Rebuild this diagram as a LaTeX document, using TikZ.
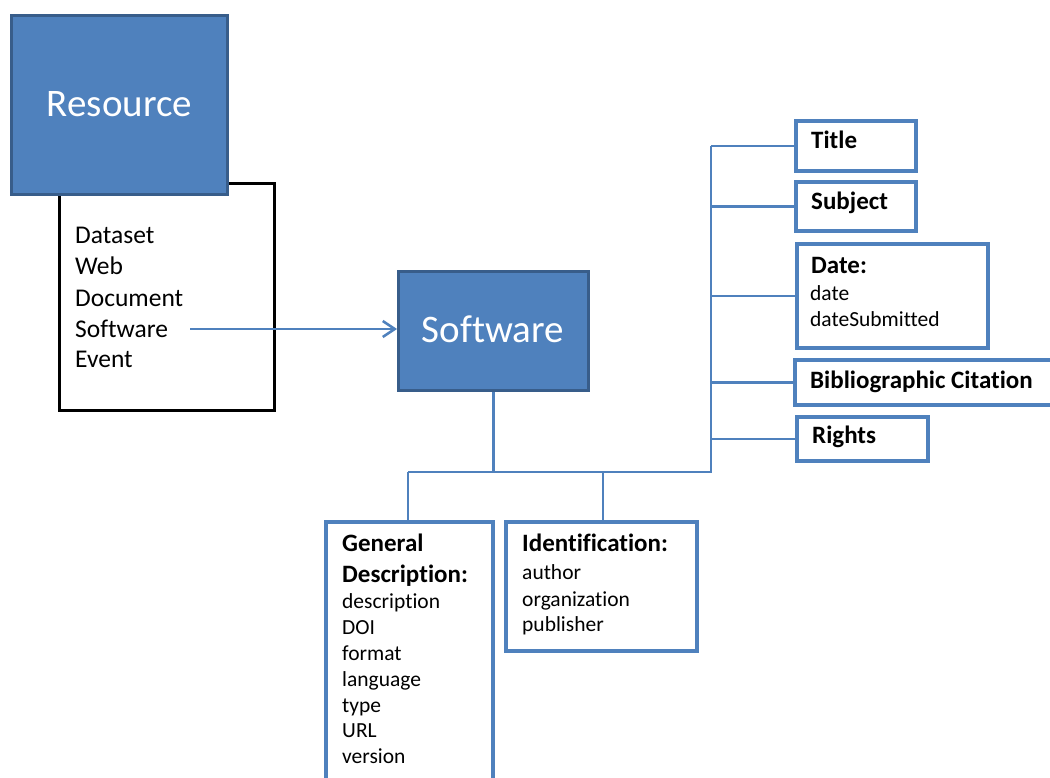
\documentclass[tikz,border=0pt]{standalone}
\usepackage{fontspec}
\setmainfont{Carlito}[Ligatures=NoCommon]
\usetikzlibrary{arrows.meta}
\definecolor{accent}{HTML}{4F81BD}
\definecolor{accentdark}{HTML}{385D8A}
\newcommand{\fsbig}{\fontsize{39}{44}\selectfont}
\newcommand{\fslist}{\fontsize{25.5}{30}\selectfont}
\newcommand{\fshead}{\bfseries\fontsize{25}{29}\selectfont}
\newcommand{\fsitem}{\fontsize{21.5}{25}\selectfont}
\tikzset{
  solidbox/.style={draw=accentdark, fill=accent, line width=3pt, inner sep=0pt},
  listbox/.style={draw=black, fill=white, line width=3.5pt, inner sep=0pt},
  fieldbox/.style={draw=accent, fill=white, line width=3.5pt, inner sep=0pt},
  conn/.style={draw=accent, line width=2.5pt},
  bigtext/.style={text=white, font=\fsbig, inner sep=0pt, anchor=base},
  listtext/.style={font=\fslist, inner sep=0pt, anchor=base west},
  headtext/.style={font=\fshead, inner sep=0pt, anchor=base west},
  itemtext/.style={font=\fsitem, inner sep=0pt, anchor=base west},
}
\begin{document}
\begin{tikzpicture}[x=1pt, y=-1pt]
\useasboundingbox (0,0) rectangle (1050,778);
\fill[white] (0,0) rectangle (1050,778);

% resource types list, with the resource block laid over its top edge
\node[listbox, minimum width=215, minimum height=227] (types) at (167,297) {};
\node[solidbox, minimum width=216, minimum height=179] (resource) at (119.5,105) {};
\node[bigtext] (resourcelabel) at (119.5,117) {Resource};
\foreach \name/\txt/\y in {dataset/Dataset/244, web/Web/275, document/Document/306,
                           software/Software/337, event/Event/367}
  \node[listtext] (item-\name) at (75,\y) {\txt};

% software block
\node[solidbox, minimum width=190, minimum height=119] (sw) at (493.5,331) {};
\node[bigtext] (swlabel) at (493,342) {Software};

% field groups on the right
\node[fieldbox, minimum width=120, minimum height=50] (title) at (856,146) {};
\node[headtext] (titlelabel) at (811,149) {Title};
\node[fieldbox, minimum width=120, minimum height=49] (subject) at (856,206.5) {};
\node[headtext] (subjectlabel) at (811,210) {Subject};
\node[fieldbox, minimum width=191, minimum height=104] (date) at (892.5,296) {};
\node[headtext] (datelabel) at (811,273) {Date:};
\node[itemtext] (date-1) at (810,300) {date};
\node[itemtext] (date-2) at (810,326.5) {dateSubmitted};
\node[fieldbox, minimum width=275, minimum height=45] (biblio) at (932.5,382.5) {};
\node[headtext] (bibliolabel) at (810,388) {Bibliographic Citation};
\node[fieldbox, minimum width=131, minimum height=44] (rights) at (862.5,439) {};
\node[headtext] (rightslabel) at (812,443) {Rights};

% field groups below
\node[fieldbox, minimum width=167, minimum height=278] (general) at (409.5,661) {};
\node[headtext] (generallabel-1) at (342,551) {General};
\node[headtext] (generallabel-2) at (342,582) {Description:};
\foreach \txt/\y [count=\i] in {description/608, DOI/634, format/660, language/686,
                                type/712, URL/737, version/763}
  \node[itemtext] (general-\i) at (342,\y) {\txt};
\node[fieldbox, minimum width=191, minimum height=129] (ident) at (601.5,586.5) {};
\node[headtext] (identlabel) at (522,551) {Identification:};
\foreach \txt/\y [count=\i] in {author/579, organization/606, publisher/631}
  \node[itemtext] (ident-\i) at (522,\y) {\txt};

% connectors
\coordinate (from) at (190,329);
\draw[conn, -{Straight Barb[length=12pt, width=16pt, line width=2.5pt]}]
  (from) -- (from -| sw.west);

\coordinate (bus) at (493.5,472);
\coordinate (busL) at (408,472);
\coordinate (busM) at (603,472);
\coordinate (busR) at (711,472);
\draw[conn] (sw.south) -- (bus);
\draw[conn] (busL) -- (busR) -- (busR |- title.west);
\draw[conn] (busL) -- (busL |- general.north);
\draw[conn] (busM) -- (busM |- ident.north);
\foreach \fld in {title, subject, date, biblio, rights}
  \draw[conn] (busR |- \fld.west) -- (\fld.west);
\end{tikzpicture}
\end{document}
